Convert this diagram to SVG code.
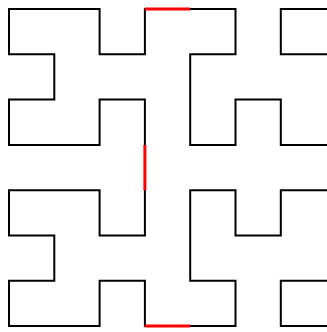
<svg xmlns="http://www.w3.org/2000/svg" width="327" height="332" viewBox="0 0 327 332">
<style>
.k{fill:none;stroke:#000;stroke-width:2;stroke-linejoin:miter;stroke-linecap:square}
.r{fill:none;stroke:#ff0000;stroke-width:3;stroke-linecap:butt}
</style>
<rect width="327" height="332" fill="#fff"/>
<g id="curve">
<polyline class="k" points="144.9,9 144.9,54.3 99.6,54.3 99.6,9 9,9 9,54.3 54.3,54.3 54.3,99.6 9,99.6 9,144.9 99.6,144.9 99.6,99.6 144.9,99.6 144.9,144.9"/>
<polyline class="k" points="144.9,190.2 144.9,235.5 99.6,235.5 99.6,190.2 9,190.2 9,235.5 54.3,235.5 54.3,280.8 9,280.8 9,326.1 99.6,326.1 99.6,280.8 144.9,280.8 144.9,326.1"/>
<polyline class="k" points="190.2,326.1 235.5,326.1 235.5,280.8 190.2,280.8 190.2,190.2 235.5,190.2 235.5,235.5 280.8,235.5 280.8,190.2 326,190.2"/>
<polyline class="k" points="326,280.8 280.8,280.8 280.8,326.1 326,326.1"/>
<polyline class="k" points="190.2,9 235.5,9 235.5,54.3 190.2,54.3 190.2,144.9 235.5,144.9 235.5,99.6 280.8,99.6 280.8,144.9 326,144.9"/>
<polyline class="k" points="326,9 280.8,9 280.8,54.3 326,54.3"/>
</g>
<g id="red">
<line class="r" x1="144.9" y1="9" x2="190.2" y2="9"/>
<line class="r" x1="144.9" y1="144.9" x2="144.9" y2="190.2"/>
<line class="r" x1="144.9" y1="326.1" x2="190.2" y2="326.1"/>
</g>
</svg>
